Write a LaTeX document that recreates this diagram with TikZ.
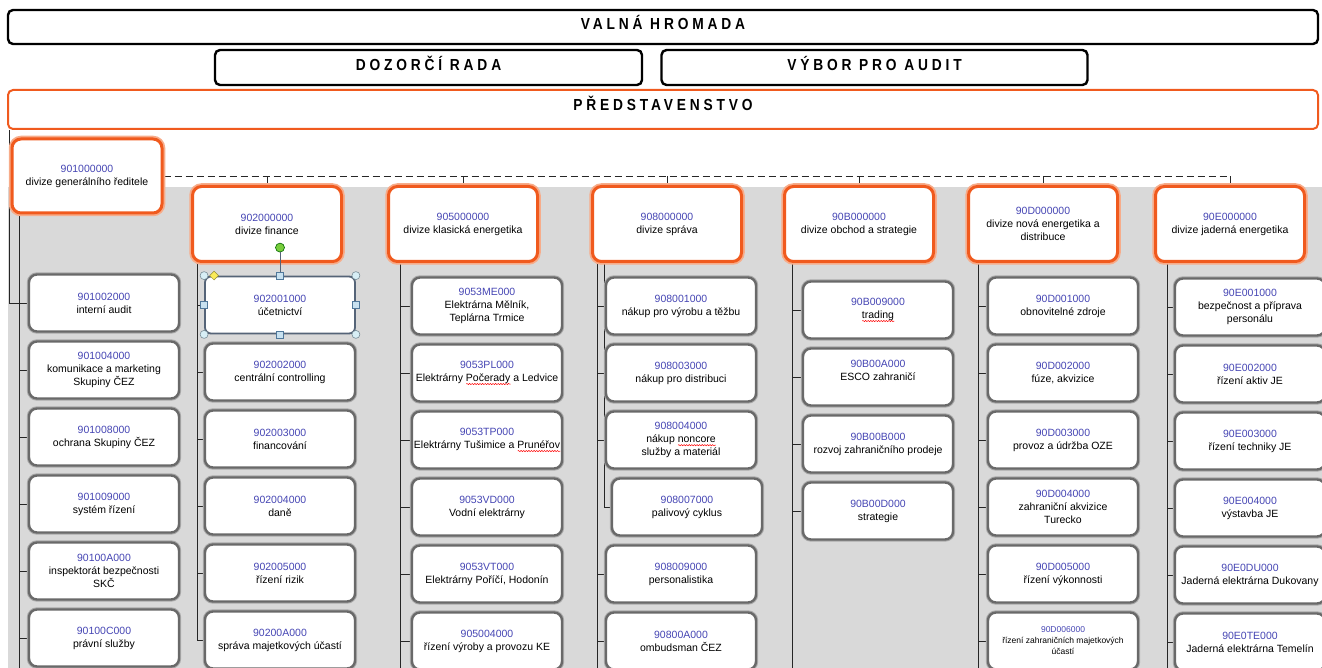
\documentclass[tikz,border=0pt]{standalone}
\usepackage{fontspec}
\setmainfont{Liberation Sans}
\newfontfamily\headfont{Liberation Sans}[FakeStretch=0.86,LetterSpace=24]
\usetikzlibrary{positioning,shapes.geometric,decorations.pathmorphing}

\definecolor{cezorange}{RGB}{240,90,30}
\definecolor{cezhalo}{RGB}{247,172,138}
\definecolor{kodblue}{RGB}{70,70,180}
\definecolor{boxgray}{RGB}{105,105,105}
\definecolor{boxhalo}{RGB}{170,170,170}
\definecolor{pozadi}{RGB}{217,217,217}
\definecolor{selslate}{RGB}{85,100,120}
\definecolor{handlecyan}{RGB}{215,238,245}
\definecolor{handlegray}{RGB}{120,140,150}
\definecolor{handlefill}{RGB}{200,225,240}
\definecolor{handleblue}{RGB}{80,120,155}
\definecolor{handlegreen}{RGB}{120,205,60}
\definecolor{handleyellow}{RGB}{250,235,90}

\newcommand{\kod}[1]{\textcolor{kodblue}{#1}}
\newsavebox{\vlbox}
\newcommand{\vlnka}[1]{\sbox{\vlbox}{#1}\rlap{\tikz[baseline=0pt]\draw[red, line width=0.5pt, sharp corners, decorate, decoration={snake, amplitude=0.6pt, segment length=2.6pt}] (0pt,-2.6pt) -- (\the\wd\vlbox,-2.6pt);}\usebox{\vlbox}}

\pgfdeclarelayer{bg}
\pgfsetlayers{bg,main}

\begin{document}
\begin{tikzpicture}[x=1pt, y=-1pt, node distance=67pt]
	\tikzstyle{rada} = [draw, line width=2.4pt, rounded corners=5pt, fill=white, inner ysep=0pt, font=\headfont\bfseries\fontsize{16}{18}\selectfont]
	\tikzstyle{divize} = [draw=cezorange, line width=3pt, rounded corners=9pt, fill=white, minimum width=149pt, minimum height=75pt, inner xsep=0pt, align=center, font=\fontsize{10.5}{13}\selectfont, preaction={draw=cezhalo, line width=6.5pt}]
	\tikzstyle{krabice} = [line width=2.4pt, rounded corners=8pt, fill=white, minimum width=150pt, minimum height=57pt, inner xsep=0pt, align=center, font=\fontsize{10.5}{13}\selectfont]
	\tikzstyle{utvar} = [krabice, draw=boxgray, preaction={draw=boxhalo, line width=4.4pt}]
	\tikzstyle{vybrany} = [krabice, draw=selslate, line width=1.8pt, rounded corners=6pt]
	\tikzstyle{spoj} = [draw=black!85, line width=0.9pt]
	\tikzstyle{sbernice} = [spoj, dash pattern=on 7pt off 4pt]
	\tikzstyle{uchyt} = [circle, draw=handlegray, fill=handlecyan, line width=0.6pt, minimum size=8pt, inner sep=0pt]
	\tikzstyle{ctverec} = [rectangle, draw=handleblue, fill=handlefill, line width=0.6pt, minimum size=7pt, inner sep=0pt]
	\tikzstyle{kosoctverec} = [diamond, draw=handleyellow!60!black, fill=handleyellow, line width=0.5pt, minimum size=9pt, inner sep=0pt]
	\tikzstyle{rotace} = [circle, draw=green!40!black, fill=handlegreen, line width=0.6pt, minimum size=9pt, inner sep=0pt]

	\useasboundingbox (0,0) rectangle (1322,668);
	\clip (0,0) rectangle (1322,668);

	\path
	node[rada, minimum width=1310pt, text height=20pt, text depth=14pt] (valna) at (663,27) {VALNÁ HROMADA}
	node[rada, minimum width=427pt, text height=21pt, text depth=14pt] (dozorci) at (428.5,67.5) {DOZORČÍ RADA}
	node[rada, minimum width=426pt, text height=21pt, text depth=14pt] (vybor) at (874.5,67.5) {VÝBOR PRO AUDIT}
	node[rada, draw=cezorange, line width=2pt, minimum width=1310pt, text height=21pt, text depth=18pt] (pred) at (663,109.5) {PŘEDSTAVENSTVO}
	;

	\path
	node[divize, minimum height=74pt, minimum width=150pt] (d901) at (87,176) {\kod{901000000}\\divize generálního ředitele}
	node[divize] (d902) at (267,224) {\kod{902000000}\\divize finance}
	node[divize] (d905) at (463,224) {\kod{905000000}\\divize klasická energetika}
	node[divize] (d908) at (667,224) {\kod{908000000}\\divize správa}
	node[divize] (d90B) at (859,224) {\kod{90B000000}\\divize obchod a strategie}
	node[divize] (d90D) at (1043,224) {\kod{90D000000}\\divize nová energetika a\\distribuce}
	node[divize] (d90E) at (1230,224) {\kod{90E000000}\\divize jaderná energetika}
	;

	\path
	node[utvar] (c901a) at (104,303) {\kod{901002000}\\interní audit}
	node[utvar, below of=c901a] (c901b) {\kod{901004000}\\komunikace a marketing\\Skupiny ČEZ}
	node[utvar, below of=c901b] (c901c) {\kod{901008000}\\ochrana Skupiny ČEZ}
	node[utvar, below of=c901c] (c901d) {\kod{901009000}\\systém řízení}
	node[utvar, below of=c901d] (c901e) {\kod{90100A000}\\inspektorát bezpečnosti\\SKČ}
	node[utvar, below of=c901e] (c901f) {\kod{90100C000}\\právní služby}

	node[vybrany] (c902a) at (280,305) {\kod{902001000}\\účetnictví}
	node[utvar, below of=c902a] (c902b) {\kod{902002000}\\centrální controlling}
	node[utvar, below of=c902b] (c902c) {\kod{902003000}\\financování}
	node[utvar, below of=c902c] (c902d) {\kod{902004000}\\daně}
	node[utvar, below of=c902d] (c902e) {\kod{902005000}\\řízení rizik}
	node[utvar, below of=c902e] (c902f) {\kod{90200A000}\\správa majetkových účastí}

	node[utvar] (c905a) at (487,306) {\kod{9053ME000}\\Elektrárna Mělník,\\Teplárna Trmice}
	node[utvar, below of=c905a] (c905b) {\kod{9053PL000}\\Elektrárny \vlnka{Počerady} a Ledvice}
	node[utvar, below of=c905b] (c905c) {\kod{9053TP000}\\Elektrárny Tušimice a \vlnka{Prunéřov}}
	node[utvar, below of=c905c] (c905d) {\kod{9053VD000}\\Vodní elektrárny}
	node[utvar, below of=c905d] (c905e) {\kod{9053VT000}\\Elektrárny Poříčí, Hodonín}
	node[utvar, below of=c905e] (c905f) {\kod{905004000}\\řízení výroby a provozu KE}

	node[utvar] (c908a) at (681,306) {\kod{908001000}\\nákup pro výrobu a těžbu}
	node[utvar, below of=c908a] (c908b) {\kod{908003000}\\nákup pro distribuci}
	node[utvar, below of=c908b] (c908c) {\kod{908004000}\\nákup \vlnka{noncore}\\služby a materiál}
	node[utvar, below of=c908c, xshift=6pt] (c908d) {\kod{908007000}\\palivový cyklus}
	node[utvar, below of=c908d, xshift=-6pt] (c908e) {\kod{908009000}\\personalistika}
	node[utvar, below of=c908e] (c908f) {\kod{90800A000}\\ombudsman ČEZ}

	node[utvar] (c90Ba) at (878,310) {\kod{90B009000}\\\vlnka{trading}}
	node[utvar, below of=c90Ba] (c90Bb) {\kod{90B00A000}\\ESCO zahraničí\\~}
	node[utvar, below of=c90Bb] (c90Bc) {\kod{90B00B000}\\rozvoj zahraničního prodeje}
	node[utvar, below of=c90Bc] (c90Bd) {\kod{90B00D000}\\strategie}

	node[utvar] (c90Da) at (1063,306) {\kod{90D001000}\\obnovitelné zdroje}
	node[utvar, below of=c90Da] (c90Db) {\kod{90D002000}\\fúze, akvizice}
	node[utvar, below of=c90Db] (c90Dc) {\kod{90D003000}\\provoz a údržba OZE}
	node[utvar, below of=c90Dc] (c90Dd) {\kod{90D004000}\\zahraniční akvizice\\Turecko}
	node[utvar, below of=c90Dd] (c90De) {\kod{90D005000}\\řízení výkonnosti}
	node[utvar, below of=c90De, font=\fontsize{8.5}{11}\selectfont] (c90Df) {\kod{90D006000}\\řízení zahraničních majetkových\\účastí}

	node[utvar] (c90Ea) at (1250,307) {\kod{90E001000}\\bezpečnost a příprava\\personálu}
	node[utvar, below of=c90Ea] (c90Eb) {\kod{90E002000}\\řízení aktiv JE}
	node[utvar, below of=c90Eb] (c90Ec) {\kod{90E003000}\\řízení techniky JE}
	node[utvar, below of=c90Ec] (c90Ed) {\kod{90E004000}\\výstavba JE}
	node[utvar, below of=c90Ed] (c90Ee) {\kod{90E0DU000}\\Jaderná elektrárna Dukovany}
	node[utvar, below of=c90Ee] (c90Ef) {\kod{90E0TE000}\\Jaderná elektrárna Temelín}
	;

	\begin{pgfonlayer}{bg}
		\fill[pozadi] (8,187) rectangle (1322,668);
		\coordinate (dno) at (0,668);
		\coordinate (l0) at ([xshift=2pt]pred.south west);
		\coordinate (l901) at ([xshift=8.5pt]d901.south west);
		\coordinate (l902) at ([xshift=6.5pt]d902.south west);
		\coordinate (l905) at ([xshift=13.5pt]d905.south west);
		\coordinate (l908) at ([xshift=6.5pt]d908.south west);
		\coordinate (l908d) at ([xshift=13.5pt]d908.south west);
		\coordinate (l90B) at ([xshift=9.5pt]d90B.south west);
		\coordinate (l90D) at ([xshift=11.5pt]d90D.south west);
		\coordinate (l90E) at ([xshift=13.5pt]d90E.south west);

		\draw[sbernice] (d901.east) -- (d901.east -| d90E.north);
		\foreach \d in {d902,d905,d908,d90B,d90D,d90E}
			\draw[spoj] (\d.north) -- (\d.north |- d901.east);

		\draw[spoj] (l0) |- (c901a.west);
		\foreach \u in {b,c,d,e,f}
			\draw[spoj] (l901) |- (c901\u.west);
		\foreach \u in {a,b,c,d,e,f}
			\draw[spoj] (l902) |- (c902\u.west);
		\foreach \u in {a,b,c,d,e,f}
			\draw[spoj] (l905) |- (c905\u.west);
		\foreach \u in {a,b,c,e,f}
			\draw[spoj] (l908) |- (c908\u.west);
		\draw[spoj] (l908d) |- (c908d.west);
		\foreach \u in {a,b,c,d}
			\draw[spoj] (l90B) |- (c90B\u.west);
		\foreach \u in {a,b,c,d,e,f}
			\draw[spoj] (l90D) |- (c90D\u.west);
		\foreach \u in {a,b,c,d,e,f}
			\draw[spoj] (l90E) |- (c90E\u.west);
		\foreach \l in {l901,l905,l908,l90B,l90D,l90E}
			\draw[spoj] (\l) -- (\l |- dno);
	\end{pgfonlayer}

	\node[rotace] (rot) at ([yshift=28pt]c902a.north) {};
	\draw[selslate, line width=1pt] (rot) -- (c902a.north);
	\foreach \a in {north west,north east,south west,south east}
		\node[uchyt] at (c902a.\a) {};
	\foreach \a in {north,south,west,east}
		\node[ctverec] at (c902a.\a) {};
	\node[kosoctverec] at ([xshift=10pt]c902a.north west) {};
\end{tikzpicture}
\end{document}
